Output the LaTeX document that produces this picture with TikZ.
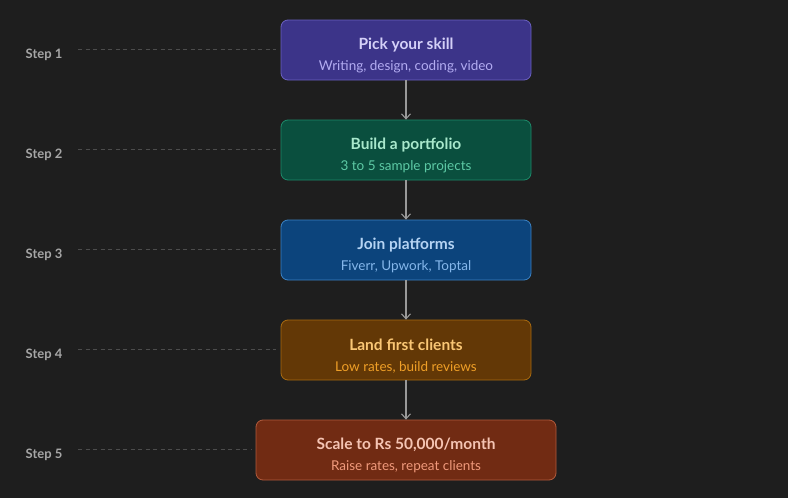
\documentclass[tikz,border=0pt]{standalone}
\usepackage{fontspec}
\setmainfont{Lato}
\usetikzlibrary{arrows.meta}
\definecolor{bg}{HTML}{1E1E1E}
\begin{document}
\begin{tikzpicture}[x=1pt,y=-1pt,
 box/.style={line width=0.8pt,rounded corners=7pt,inner sep=0pt,minimum height=60pt},
 ttl/.style={font=\fontsize{15.5}{18}\selectfont\bfseries},
 subt/.style={font=\fontsize{13.5}{16}\selectfont},
 steplbl/.style={font=\fontsize{13}{16}\selectfont\bfseries,text=gray!70!white},
 dashln/.style={draw=gray!60!black,line width=0.8pt,dash pattern=on 4pt off 3.5pt},
 arr/.style={draw=gray!80!white,line width=1.1pt,-{Straight Barb[length=5pt,width=9pt]}}]
\fill[bg] (0,0) rectangle (788,498);
\useasboundingbox (0,0) rectangle (788,498);
\def\stp#1#2#3#4#5#6#7#8#9{%
 \definecolor{f#1}{HTML}{#3}\definecolor{d#1}{HTML}{#4}%
 \definecolor{t#1}{HTML}{#5}\definecolor{s#1}{HTML}{#6}%
 \node[box,draw=d#1,fill=f#1,minimum width=#9pt] (b#1) at (406,#2) {};
 \node[ttl,text=t#1] (t#1) at (406,#2-5) {#7};
 \node[subt,text=s#1] (s#1) at (406,#2+17) {#8};}
\stp{1}{50}{3C3489}{6A60C0}{D4D0F8}{B3ACF2}{Pick your skill}{Writing, design, coding, video}{250}
\stp{2}{150}{0A4F3E}{1D8A6A}{A8E8CC}{5DCAA5}{Build a portfolio}{3 to 5 sample projects}{250}
\stp{3}{250}{0C447C}{3B82C4}{B5D4F4}{85B7EB}{Join platforms}{Fiverr, Upwork, Toptal}{250}
\stp{4}{350}{633806}{A86A10}{FAC775}{EF9F27}{Land first clients}{Low rates, build reviews}{250}
\stp{5}{450}{712B13}{B05A3C}{F5C4B3}{F0997B}{Scale to Rs 50,000/month}{Raise rates, repeat clients}{300}
\foreach \i/\y/\e in {1/50/276,2/150/276,3/250/276,4/350/276,5/450/251}{
 \node[steplbl,anchor=center] (l\i) at (44,\y+5) {Step \i};
 \coordinate (d\i) at (\e,\y-1);
 \coordinate (a\i) at (78,\y-1);
 \draw[dashln] (a\i) -- (d\i);}
\foreach \a/\b in {1/2,2/3,3/4,4/5}\draw[arr] (b\a.south) -- (b\b.north);
\end{tikzpicture}
\end{document}
